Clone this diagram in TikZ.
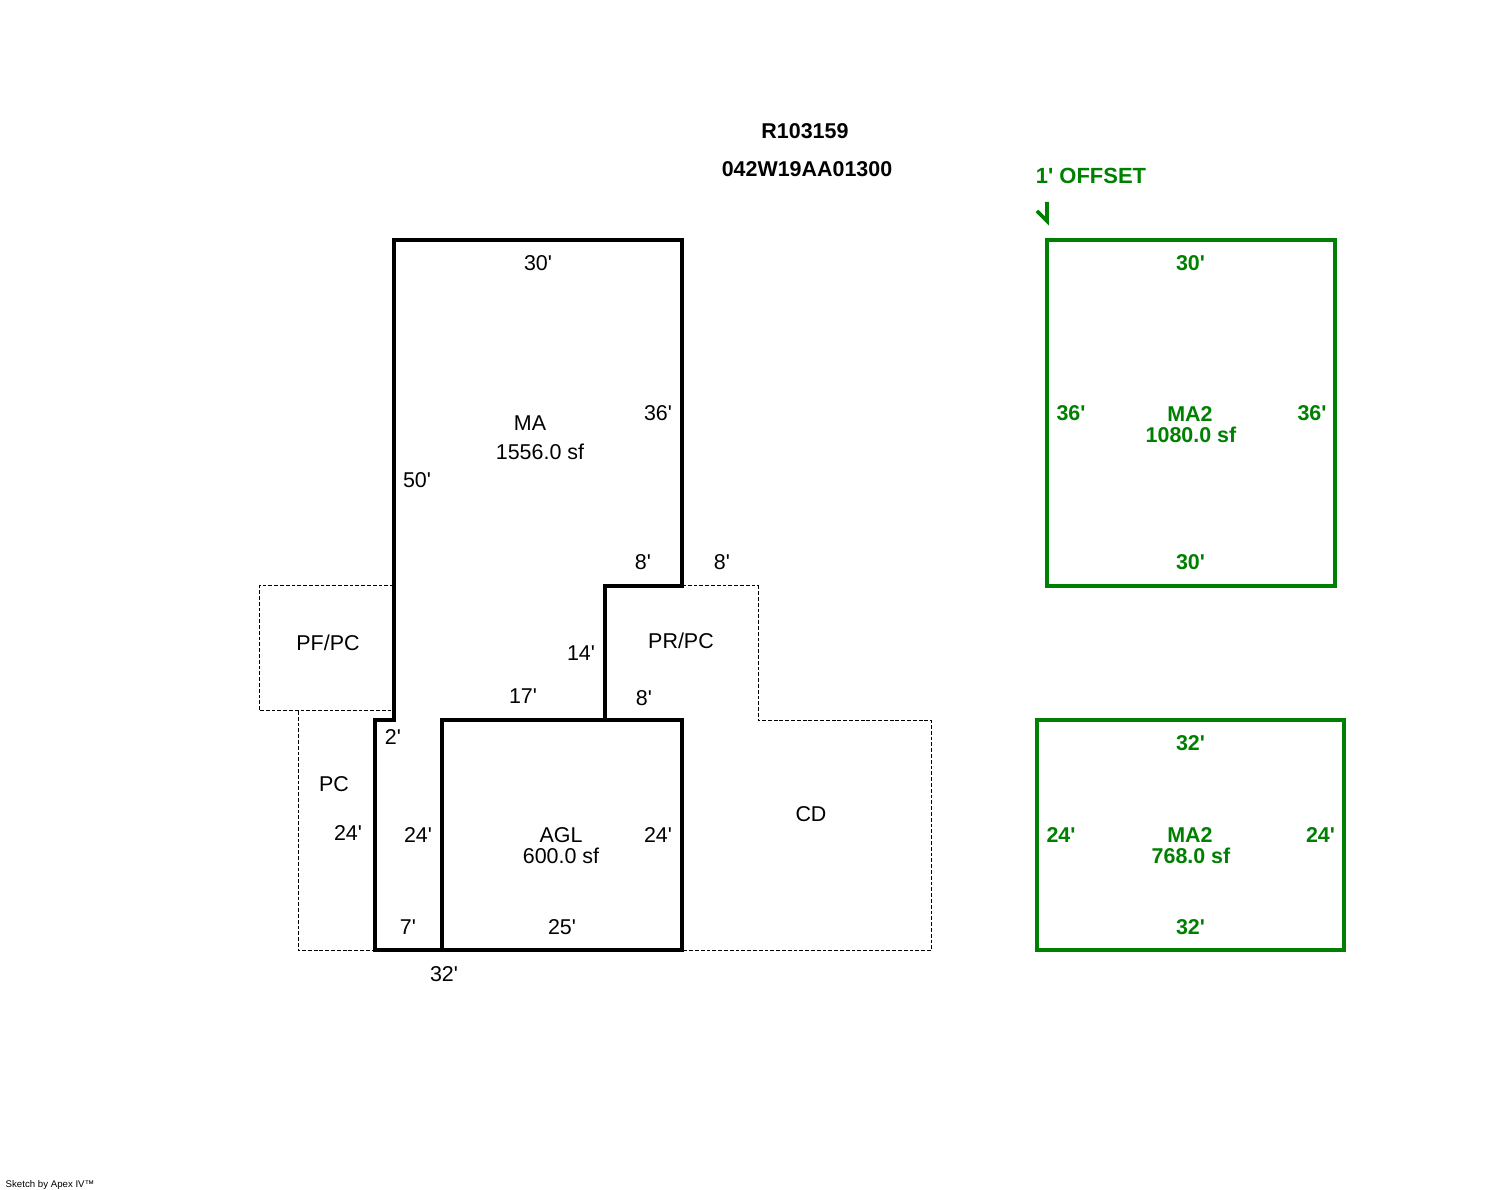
\documentclass[tikz,border=0pt]{standalone}
\usepackage{fontspec}
\setmainfont{Liberation Sans}[Ligatures=TeXOff]
\definecolor{sketchgreen}{RGB}{0,128,0}
\tikzset{
    wall/.style={line width=1.25pt},
    wallgreen/.style={sketchgreen, line width=1.1pt},
    porch/.style={line width=0.28pt, dash pattern=on 1.1pt off 0.55pt},
    lbl/.style={inner sep=0pt, yshift=0.25pt, font=\fontsize{6.1}{7}\selectfont},
    lblgreen/.style={inner sep=0pt, yshift=0.25pt, text=sketchgreen, font=\fontsize{6.1}{7}\selectfont\bfseries},
    lblhead/.style={inner sep=0pt, yshift=0.25pt, font=\fontsize{6.1}{7}\selectfont\bfseries}
}
\begin{document}
\begin{tikzpicture}[y=-1cm]

\useasboundingbox (0,0) rectangle (14.88,11.9);

% dotted outlines
\draw [porch] (3.94,5.86) -- (2.59,5.86) -- (2.59,7.11) -- (3.94,7.11);
\draw [porch] (2.98,7.11) -- (2.98,9.505) -- (3.75,9.505);
\draw [porch] (6.82,5.86) -- (7.58,5.86) -- (7.58,7.205) -- (9.315,7.205) -- (9.315,9.505) -- (6.82,9.505);

% main building
\draw [wall] (3.94,2.4) -- (6.82,2.4) -- (6.82,5.86) -- (6.05,5.86) -- (6.05,7.2) -- (6.82,7.2)
    -- (6.82,9.5) -- (3.75,9.5) -- (3.75,7.2) -- (3.94,7.2) -- cycle;
\draw [wall] (6.05,7.2) -- (4.42,7.2) -- (4.42,9.5);

% second floor and offset
\draw [wallgreen] (10.47,2.4) rectangle (13.35,5.86);
\draw [wallgreen] (10.37,7.2) rectangle (13.44,9.5);
\draw [wallgreen] (10.47,2.02) -- (10.47,2.21) -- (10.37,2.11);

\node [lblhead] (parcel) at (8.05,1.32) {R103159};
\node [lblhead] (taxlot) at (8.07,1.705) {042W19AA01300};
\node [lblgreen, font=\fontsize{6.25}{7}\selectfont\bfseries] (offset) at (10.91,1.77) {1' OFFSET};

\node [lbl] (top) at (5.38,2.64) {30'};
\node [lbl] (right) at (6.58,4.14) {36'};
\node [lbl] (left) at (4.17,4.81) {50'};
\node [lbl] (ma) at (5.3,4.24) {MA};
\node [lbl] (maarea) at (5.4,4.53) {1556.0 sf};
\node [lbl] (stepa) at (6.43,5.63) {8'};
\node [lbl] (stepb) at (7.22,5.63) {8'};
\node [lbl] (stepc) at (5.81,6.54) {14'};
\node [lbl] (stepd) at (6.44,6.99) {8'};
\node [lbl] (stepe) at (5.23,6.97) {17'};
\node [lbl] (stepf) at (3.93,7.38) {2'};
\node [lbl] (pfpc) at (3.28,6.44) {PF/PC};
\node [lbl] (prpc) at (6.81,6.42) {PR/PC};
\node [lbl] (pc) at (3.34,7.85) {PC};
\node [lbl] (cd) at (8.11,8.15) {CD};
\node [lbl] (pcside) at (3.48,8.34) {24'};
\node [lbl] (wallside) at (4.18,8.36) {24'};
\node [lbl] (aglside) at (6.58,8.36) {24'};
\node [lbl] (agl) at (5.61,8.36) {AGL};
\node [lbl] (aglarea) at (5.61,8.57) {600.0 sf};
\node [lbl] (gapa) at (4.08,9.28) {7'};
\node [lbl] (gapb) at (5.62,9.28) {25'};
\node [lbl] (bottom) at (4.44,9.75) {32'};

\node [lblgreen] (uppertop) at (11.905,2.64) {30'};
\node [lblgreen] (upperleft) at (10.71,4.14) {36'};
\node [lblgreen] (upperright) at (13.12,4.14) {36'};
\node [lblgreen] (uppername) at (11.9,4.15) {MA2};
\node [lblgreen] (upperarea) at (11.91,4.36) {1080.0 sf};
\node [lblgreen] (upperbottom) at (11.905,5.63) {30'};

\node [lblgreen] (lowertop) at (11.905,7.44) {32'};
\node [lblgreen] (lowerleft) at (10.61,8.36) {24'};
\node [lblgreen] (lowerright) at (13.205,8.36) {24'};
\node [lblgreen] (lowername) at (11.9,8.36) {MA2};
\node [lblgreen] (lowerarea) at (11.91,8.57) {768.0 sf};
\node [lblgreen] (lowerbottom) at (11.905,9.28) {32'};

\node [inner sep=0pt, anchor=west, font=\fontsize{2.75}{3}\selectfont] (credit) at (0.05,11.85) {Sketch by Apex IV™};

\end{tikzpicture}
\end{document}
